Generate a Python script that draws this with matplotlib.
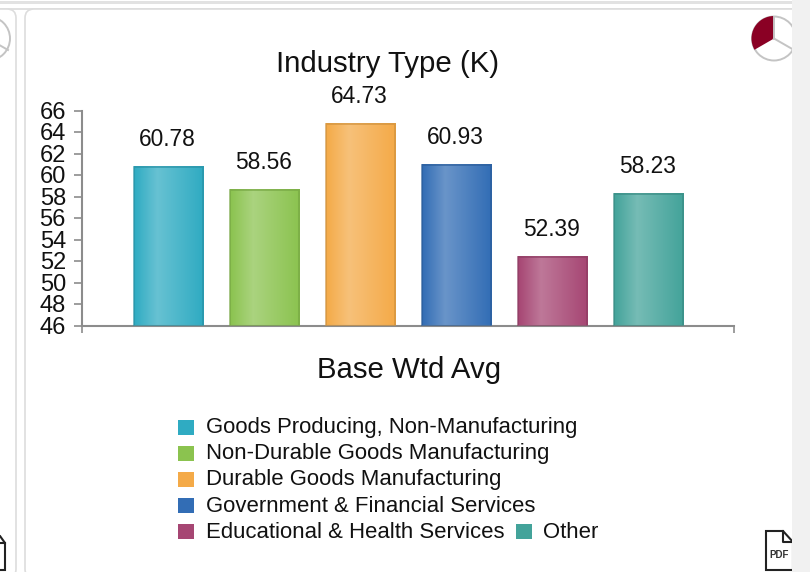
''' ######## chart: Industry Type (K) bars in a dashboard card ######## '''
import numpy as np
import matplotlib
matplotlib.use('Agg')
import matplotlib.pyplot as plt
from matplotlib.colors import to_rgb
from matplotlib.patches import FancyBboxPatch, Rectangle, Wedge, Circle, Polygon

''' ######## data ######## '''
categories = ['Goods Producing, Non-Manufacturing', 'Non-Durable Goods Manufacturing',
              'Durable Goods Manufacturing', 'Government & Financial Services',
              'Educational & Health Services', 'Other']
values = [60.78, 58.56, 64.73, 60.93, 52.39, 58.23]
colors = ['#2fabc2', '#8bc34f', '#f4aa48', '#326db5', '#a64673', '#43a39a']
y_ticks = list(range(46, 68, 2))
title = 'Industry Type (K)'
subtitle = 'Base Wtd Avg'

''' ######## style ######## '''
W, H = 810, 572
plt.rcParams['font.family'] = ['Liberation Sans', 'DejaVu Sans']
fs_title, fs_legend, fs_value, fs_tick = 21.2, 15.95, 16.4, 17.0
axis_grey = '#8c8c8c'
text_col = '#111111'

def lighten(c, f):
    c = np.array(to_rgb(c))
    return c + (1 - c) * f

def darken(c, f):
    return np.array(to_rgb(c)) * (1 - f)

''' ######## main ######## '''
fig = plt.figure(figsize=(W / 100, H / 100), dpi=100, facecolor='white')

# page furniture, in pixel coordinates
bg = fig.add_axes([0, 0, 1, 1], zorder=0)
bg.set_xlim(0, W)
bg.set_ylim(H, 0)
bg.axis('off')
bg.add_patch(Rectangle((0, 1), 792, 2.5, fc='#e2e2e2', ec='none'))
bg.add_patch(Rectangle((0, 8), 792, 1.5, fc='#e0e0e0', ec='none'))
bg.add_patch(FancyBboxPatch((-40, 9), 56, 569, boxstyle='round,pad=0,rounding_size=9',
                            fc='white', ec='#dddddd', lw=1.2))
bg.add_patch(FancyBboxPatch((25, 9), 800, 569, boxstyle='round,pad=0,rounding_size=9',
                            fc='white', ec='#dddddd', lw=1.2))

# pie icons
bg.add_patch(Circle((-12, 38.5), 22, fc='white', ec='#c4c4c4', lw=1.4))
bg.plot([-12, 8], [38.5, 50], c='#c4c4c4', lw=1.4)
bg.add_patch(Circle((774, 38.5), 22, fc='white', ec='#c4c4c4', lw=1.4))
bg.add_patch(Wedge((774, 38.5), 22.5, 150, 270, fc='#8a0024', ec='none'))
bg.plot([774, 774], [17, 38.5], c='#c4c4c4', lw=1.4)
bg.plot([774, 794], [38.5, 50], c='#c4c4c4', lw=1.4)

# pdf icons
bg.add_patch(Polygon([(766, 570), (766, 531), (783, 531), (793, 542), (793, 570)],
                     closed=True, fc='white', ec='#222222', lw=1.5))
bg.plot([783, 783, 793], [531, 542, 542], c='#222222', lw=1.5)
bg.text(779.5, 555, 'PDF', fontsize=7, color='#333333', ha='center', va='center',
        fontweight='bold')
bg.add_patch(Polygon([(-22, 570), (-22, 536), (0, 536), (5, 543), (5, 570)],
                     closed=True, fc='white', ec='#222222', lw=1.5))
bg.plot([-3, -3, 5], [536, 543, 543], c='#222222', lw=1.5)
bg.add_patch(Rectangle((792, 0), 18, H, fc='#f1f1f1', ec='none', zorder=5))

# bar chart
ax = fig.add_axes([82 / W, (H - 325.5) / H, (734 - 82) / W, 215 / H], zorder=1)
ax.patch.set_alpha(0)
x = np.arange(len(values))
bars = ax.bar(x, values, width=0.72, bottom=0, color='none', linewidth=0, zorder=2)
for bar, col in zip(bars, colors):
    x0, w = bar.get_x(), bar.get_width()
    # horizontal gradient: light band at one third of the width
    t = np.linspace(0, 1, 80)
    f = np.where(t < 0.33, t / 0.33, (1 - t) / 0.67) * 0.27
    img = np.array([[lighten(col, v) for v in f]])
    ax.imshow(img, extent=(x0, x0 + w, 46, bar.get_height()), aspect='auto', zorder=2,
              interpolation='bilinear')
    ax.add_patch(Rectangle((x0, 46), w, bar.get_height() - 46, fc='none',
                           ec=darken(col, 0.15), lw=1.3, alpha=0.7, zorder=3))
    ax.annotate(f'{bar.get_height():.2f}', (x0 + w / 2 - 0.008, bar.get_height()), xytext=(0, 11.6),
                textcoords='offset points', ha='center', va='bottom',
                fontsize=fs_value, color=text_col)
ax.set_xlim(-0.9, 5.89)
ax.set_ylim(46, 66)
ax.set_yticks(y_ticks)
ax.set_xticks([-0.9, 5.89])
ax.set_xticklabels([])
ax.tick_params(axis='y', length=5.6, width=1.2, color=axis_grey, labelsize=fs_tick,
               labelcolor=text_col, pad=6)
ax.tick_params(axis='x', length=5, width=1.2, color=axis_grey)
for s in ['top', 'right']:
    ax.spines[s].set_visible(False)
for s in ['left', 'bottom']:
    ax.spines[s].set_color(axis_grey)
    ax.spines[s].set_linewidth(1.5)

# titles
fig.text(388 / W, 1 - 63.5 / H, title, fontsize=fs_title, color=text_col, ha='center', va='center')
fig.text(409 / W, 1 - 370 / H, subtitle, fontsize=fs_title, color=text_col, ha='center', va='center')

# legend: five rows, the last one shared by two entries
leg_x = [178, 178, 178, 178, 178, 516]
leg_y = [427, 453, 479, 505, 531, 531]
for name, col, lx, ly in zip(categories, colors, leg_x, leg_y):
    bg.add_patch(Rectangle((lx, ly - 7.5), 15.5, 15, fc=col, ec='none'))
    bg.text(lx + 28 - (1 if name == 'Other' else 0), ly + 1, name, fontsize=fs_legend,
            color=text_col, ha='left', va='center')

fig.savefig('out.png', dpi=100)
